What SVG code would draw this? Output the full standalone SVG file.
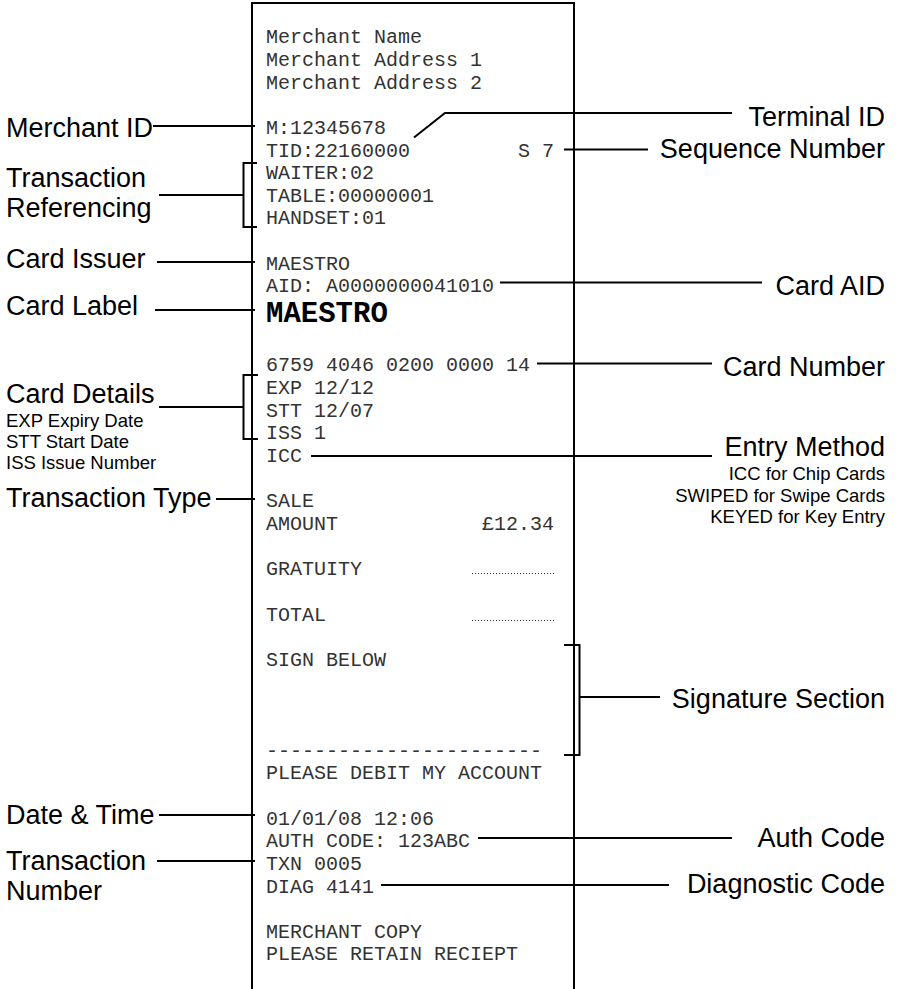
<svg xmlns="http://www.w3.org/2000/svg" width="901" height="989" viewBox="0 0 901 989">
<style>
.r{font-family:"Liberation Mono","Courier New",monospace;font-size:20px;fill:#333}
.rb{font-family:"Liberation Mono","Courier New",monospace;font-size:29px;font-weight:bold;fill:#000}
.l{font-family:"Liberation Sans",Arial,sans-serif;font-size:27px;fill:#000}
.s{font-family:"Liberation Sans",Arial,sans-serif;font-size:18.5px;fill:#000}
.e{text-anchor:end}
.c line,.c path,.c polyline{stroke:#000;stroke-width:2;fill:none}
</style>
<rect width="901" height="989" fill="#fff"/>
<g id="receipt">
<path d="M252,989 V3 H574 V989" fill="none" stroke="#000" stroke-width="2"/>
<text class="r" x="266" y="43.3">Merchant Name</text>
<text class="r" x="266" y="65.9">Merchant Address 1</text>
<text class="r" x="266" y="88.6">Merchant Address 2</text>
<text class="r" x="266" y="133.8">M:12345678</text>
<text class="r" x="266" y="156.5">TID:22160000</text>
<text class="r" x="518" y="156.5">S 7</text>
<text class="r" x="266" y="179.1">WAITER:02</text>
<text class="r" x="266" y="201.7">TABLE:00000001</text>
<text class="r" x="266" y="224.3">HANDSET:01</text>
<text class="r" x="266" y="269.6">MAESTRO</text>
<text class="r" x="266" y="292.2">AID: A0000000041010</text>
<text class="rb" x="266" y="322">MAESTRO</text>
<text class="r" x="266" y="371">6759 4046 0200 0000 14</text>
<text class="r" x="266" y="394">EXP 12/12</text>
<text class="r" x="266" y="416.7">STT 12/07</text>
<text class="r" x="266" y="439.3">ISS 1</text>
<text class="r" x="266" y="462">ICC</text>
<text class="r" x="266" y="507.3">SALE</text>
<text class="r" x="266" y="530">AMOUNT</text>
<text class="r" x="482" y="530">£12.34</text>
<text class="r" x="266" y="575.3">GRATUITY</text>
<line x1="472" y1="573.5" x2="554" y2="573.5" stroke="#333" stroke-width="1" stroke-dasharray="1 2"/>
<text class="r" x="266" y="620.6">TOTAL</text>
<line x1="472" y1="620.5" x2="554" y2="620.5" stroke="#333" stroke-width="1" stroke-dasharray="1 2"/>
<text class="r" x="266" y="666">SIGN BELOW</text>
<text class="r" x="266" y="756.6">-----------------------</text>
<text class="r" x="266" y="779.3">PLEASE DEBIT MY ACCOUNT</text>
<text class="r" x="266" y="824.6">01/01/08 12:06</text>
<text class="r" x="266" y="847.3">AUTH CODE: 123ABC</text>
<text class="r" x="266" y="869.9">TXN 0005</text>
<text class="r" x="266" y="892.5">DIAG 4141</text>
<text class="r" x="266" y="937.8">MERCHANT COPY</text>
<text class="r" x="266" y="960.4">PLEASE RETAIN RECIEPT</text>
</g>
<g id="merchant-id"><text class="l" x="6" y="137">Merchant ID</text></g>
<g id="transaction-referencing"><text class="l" x="6" y="187">Transaction</text><text class="l" x="6" y="217">Referencing</text></g>
<g id="card-issuer"><text class="l" x="6" y="268">Card Issuer</text></g>
<g id="card-label"><text class="l" x="6" y="315">Card Label</text></g>
<g id="card-details"><text class="l" x="6" y="403">Card Details</text>
<text class="s" x="6" y="427">EXP Expiry Date</text>
<text class="s" x="6" y="448">STT Start Date</text>
<text class="s" x="6" y="469">ISS Issue Number</text></g>
<g id="transaction-type"><text class="l" x="6" y="507">Transaction Type</text></g>
<g id="date-time"><text class="l" x="6" y="824">Date &amp; Time</text></g>
<g id="transaction-number"><text class="l" x="6" y="870">Transaction</text><text class="l" x="6" y="900">Number</text></g>
<g id="terminal-id"><text class="l e" x="885" y="126">Terminal ID</text></g>
<g id="sequence-number"><text class="l e" x="885" y="158">Sequence Number</text></g>
<g id="card-aid"><text class="l e" x="885" y="295">Card AID</text></g>
<g id="card-number"><text class="l e" x="885" y="376">Card Number</text></g>
<g id="entry-method"><text class="l e" x="885" y="456">Entry Method</text>
<text class="s e" x="885" y="480">ICC for Chip Cards</text>
<text class="s e" x="885" y="501.5">SWIPED for Swipe Cards</text>
<text class="s e" x="885" y="523">KEYED for Key Entry</text></g>
<g id="signature-section"><text class="l e" x="885" y="707.5">Signature Section</text></g>
<g id="auth-code"><text class="l e" x="885" y="846.5">Auth Code</text></g>
<g id="diagnostic-code"><text class="l e" x="885" y="893">Diagnostic Code</text></g>
<g id="connectors" class="c">
<line x1="153" y1="126" x2="255" y2="126"/>
<polyline points="159,195 243.5,195"/>
<polyline points="257,163 243.5,163 243.5,227 257,227"/>
<line x1="157" y1="262" x2="255" y2="262"/>
<line x1="155" y1="310" x2="255" y2="310"/>
<line x1="159" y1="407" x2="243.5" y2="407"/>
<polyline points="258,375 243.5,375 243.5,439 258,439"/>
<line x1="216" y1="499" x2="255" y2="499"/>
<line x1="159" y1="815" x2="255" y2="815"/>
<line x1="157" y1="861" x2="255" y2="861"/>
<polyline points="414,137.5 445,113 732,113"/>
<line x1="564" y1="149.5" x2="648" y2="149.5"/>
<line x1="500" y1="282.5" x2="762" y2="282.5"/>
<line x1="537" y1="363.5" x2="712" y2="363.5"/>
<line x1="311" y1="456" x2="712" y2="456"/>
<polyline points="564,645 579.5,645 579.5,755 564,755"/>
<line x1="579.5" y1="697" x2="660" y2="697"/>
<line x1="478" y1="838" x2="732" y2="838"/>
<line x1="381" y1="885" x2="669" y2="885"/>
</g>
</svg>
